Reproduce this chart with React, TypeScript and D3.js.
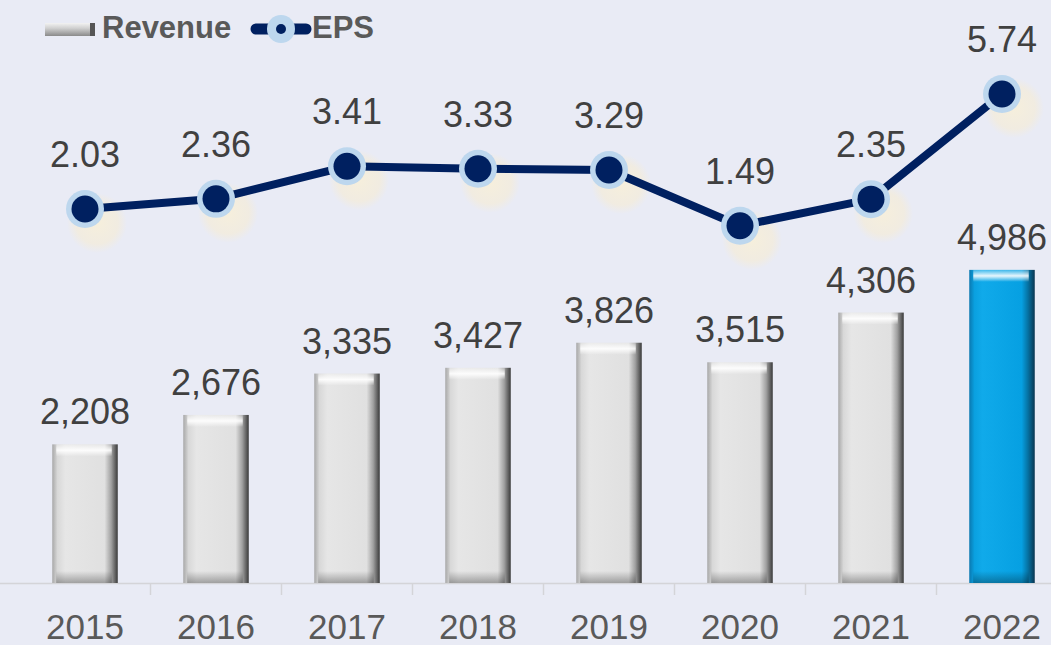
import React from "react";
import * as d3 from "d3";

const years = ["2015", "2016", "2017", "2018", "2019", "2020", "2021", "2022"];
const revenue = [2208, 2676, 3335, 3427, 3826, 3515, 4306, 4986];
const eps = [2.03, 2.36, 3.41, 3.33, 3.29, 1.49, 2.35, 5.74];

const W = 1051;
const H = 645;

export default function App() {
  const x = d3.scaleBand<string>().domain(years).range([19.5, 1067.5]).paddingInner(0.5).paddingOuter(0.25);
  const yRev = d3.scaleLinear().domain([0, 5000]).range([583, 269]);
  const yEps = d3.scaleLinear().domain([0, 6]).range([272, 86]);
  const fmt = d3.format(",");
  const line = d3
    .line<number>()
    .x((_, i) => (x(years[i]) as number) + x.bandwidth() / 2)
    .y((d) => yEps(d));
  const step = x.step();
  const font = "'Liberation Sans', Arial, sans-serif";
  const bw = x.bandwidth();
  return (
    <svg width={W} height={H} style={{ position: "absolute", left: 0, top: 0, background: "#E9EBF5" }}>
      <defs>
        <linearGradient id="gH" x1="0" x2="1" y1="0" y2="0">
          <stop offset="0" stopColor="#a8a8a8" />
          <stop offset="0.08" stopColor="#d8d8d8" />
          <stop offset="0.2" stopColor="#e6e6e6" />
          <stop offset="0.8" stopColor="#e0e0e0" />
          <stop offset="0.9" stopColor="#a0a0a0" />
          <stop offset="1" stopColor="#3a3a3a" />
        </linearGradient>
        <linearGradient id="bH" x1="0" x2="1" y1="0" y2="0">
          <stop offset="0" stopColor="#0a78b0" />
          <stop offset="0.08" stopColor="#0aa0e0" />
          <stop offset="0.2" stopColor="#10aaea" />
          <stop offset="0.8" stopColor="#06a0e2" />
          <stop offset="0.9" stopColor="#0670a0" />
          <stop offset="1" stopColor="#0a3550" />
        </linearGradient>
        <linearGradient id="legG" x1="0" x2="0" y1="0" y2="1">
          <stop offset="0" stopColor="#f2f2f2" />
          <stop offset="0.4" stopColor="#d0d0d0" />
          <stop offset="1" stopColor="#8a8a8a" />
        </linearGradient>
        <linearGradient id="topHi" x1="0" x2="0" y1="0" y2="1">
          <stop offset="0" stopColor="#ffffff" stopOpacity="0.2" />
          <stop offset="0.5" stopColor="#ffffff" stopOpacity="0.9" />
          <stop offset="1" stopColor="#ffffff" stopOpacity="0" />
        </linearGradient>
        <linearGradient id="botSh" x1="0" x2="0" y1="0" y2="1">
          <stop offset="0" stopColor="#000000" stopOpacity="0" />
          <stop offset="1" stopColor="#000000" stopOpacity="0.3" />
        </linearGradient>
        <radialGradient id="glow">
          <stop offset="0" stopColor="#f6efdc" stopOpacity="1" />
          <stop offset="0.7" stopColor="#f3ecdc" stopOpacity="0.8" />
          <stop offset="1" stopColor="#f3ecdc" stopOpacity="0" />
        </radialGradient>
      </defs>

      {/* axis */}
      <line x1={0} x2={W} y1={583.5} y2={583.5} stroke="#d4d4d8" strokeWidth={1.5} />
      {years.slice(1).map((y) => {
        const tx = (x(y) as number) - (step - bw) / 2;
        return <line key={"t" + y} x1={tx} x2={tx} y1={583} y2={595} stroke="#d4d4d8" strokeWidth={1.5} />;
      })}

      {/* bars */}
      {revenue.map((v, i) => {
        const bx = x(years[i]) as number;
        const by = yRev(v);
        const bh = 583 - by;
        const last = i === years.length - 1;
        return (
          <g key={"b" + i}>
            <rect x={bx} y={by} width={bw} height={bh} fill={last ? "url(#bH)" : "url(#gH)"} />
            <rect x={bx + 4} y={by} width={bw - 10} height={12} fill="url(#topHi)" />
            <rect x={bx + 4} y={583 - 12} width={bw - 10} height={12} fill="url(#botSh)" />
            <text
              x={bx + bw / 2}
              y={by - 20}
              textAnchor="middle"
              fontFamily={font}
              fontSize={36}
              fill="#404040"
            >
              {fmt(v)}
            </text>
          </g>
        );
      })}

      {/* year labels */}
      {years.map((y) => (
        <text
          key={"y" + y}
          x={(x(y) as number) + bw / 2}
          y={639}
          textAnchor="middle"
          fontFamily={font}
          fontSize={35}
          fill="#595959"
        >
          {y}
        </text>
      ))}

      {/* EPS glow */}
      {eps.map((v, i) => (
        <circle
          key={"gl" + i}
          cx={(x(years[i]) as number) + bw / 2 + 12}
          cy={yEps(v) + 14}
          r={30}
          fill="url(#glow)"
        />
      ))}
      <path d={line(eps) || ""} fill="none" stroke="#002060" strokeWidth={8} strokeLinejoin="round" />
      {eps.map((v, i) => {
        const cx = (x(years[i]) as number) + bw / 2;
        const cy = yEps(v);
        return (
          <g key={"p" + i}>
            <circle cx={cx} cy={cy} r={19} fill="#bdd7ee" />
            <circle cx={cx} cy={cy} r={13.5} fill="#002060" />
            <text x={cx} y={cy - 42} textAnchor="middle" fontFamily={font} fontSize={36} fill="#404040">
              {v.toFixed(2)}
            </text>
          </g>
        );
      })}

      {/* legend */}
      <g>
        <rect x={45} y={23} width={50} height={13} fill="url(#legG)" />
        <rect x={90} y={23} width={5} height={13} fill="#555" />
        <text x={102} y={38} fontFamily={font} fontWeight="bold" fontSize={31} fill="#595959">
          Revenue
        </text>
        <line x1={256} x2={306} y1={29} y2={29} stroke="#002060" strokeWidth={11} strokeLinecap="round" />
        <circle cx={281} cy={29} r={14} fill="#bdd7ee" />
        <circle cx={281} cy={29} r={5} fill="#002060" />
        <text x={312} y={38} fontFamily={font} fontWeight="bold" fontSize={31} fill="#595959">
          EPS
        </text>
      </g>
    </svg>
  );
}
